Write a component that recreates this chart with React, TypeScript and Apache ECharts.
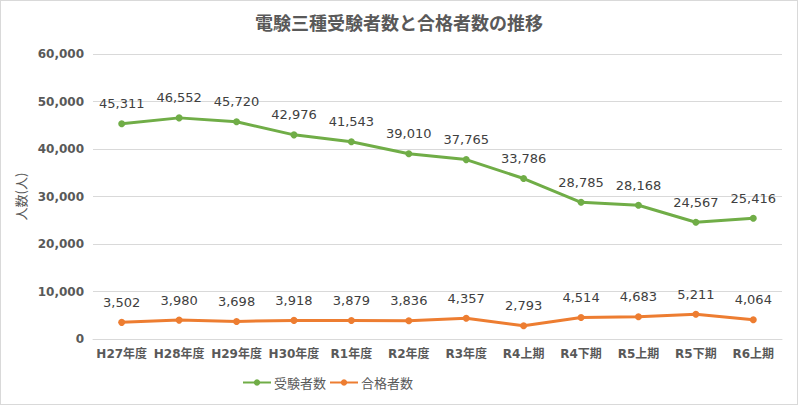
import React, { useEffect, useRef } from "react";
import * as echarts from "echarts";

const categories = ["H27年度", "H28年度", "H29年度", "H30年度", "R1年度", "R2年度", "R3年度", "R4上期", "R4下期", "R5上期", "R5下期", "R6上期"];
const examinees = [45311, 46552, 45720, 42976, 41543, 39010, 37765, 33786, 28785, 28168, 24567, 25416];
const passers = [3502, 3980, 3698, 3918, 3879, 3836, 4357, 2793, 4514, 4683, 5211, 4064];

const FONT = "'DejaVu Sans', 'Noto Sans CJK JP', sans-serif";
const CJK = "'Noto Sans CJK JP', sans-serif";

export default function App() {
  const ref = useRef<HTMLDivElement>(null);
  useEffect(() => {
    if (!ref.current) return;
    const chart = echarts.init(ref.current, undefined, { renderer: "svg" });
    const fmt = (p: any) => Number(p.value).toLocaleString("en-US");
    chart.setOption({
      animation: false,
      backgroundColor: "#ffffff",
      textStyle: { fontFamily: FONT },
      title: {
        text: "電験三種受験者数と合格者数の推移",
        left: "center",
        top: 7,
        textStyle: { fontSize: 18, fontWeight: "bold", color: "#595959", fontFamily: CJK },
      },
      legend: {
        bottom: 10,
        left: 236,
        itemWidth: 28,
        itemHeight: 8,
        itemGap: 3,
        textStyle: { fontSize: 13, color: "#595959", fontFamily: CJK, padding: [0, 0, 0, -2] },
        data: ["受験者数", "合格者数"],
      },
      grid: { left: 92, right: 15, top: 53, bottom: 65 },
      xAxis: {
        type: "category",
        data: categories,
        boundaryGap: true,
        axisLine: { lineStyle: { color: "#d9d9d9" } },
        axisTick: { show: false },
        axisLabel: { color: "#595959", fontSize: 12, fontWeight: "bold", margin: 9, interval: 0, fontFamily: FONT },
      },
      yAxis: {
        type: "value",
        min: 0,
        max: 60000,
        interval: 10000,
        name: "人数(人)",
        nameLocation: "middle",
        nameGap: 57,
        nameRotate: 90,
        nameTextStyle: { color: "#595959", fontSize: 13, fontFamily: CJK },
        axisLine: { show: false },
        axisTick: { show: false },
        splitLine: { lineStyle: { color: "#d9d9d9" } },
        axisLabel: {
          color: "#595959",
          fontSize: 12,
          fontWeight: "bold",
          margin: 9,
          fontFamily: FONT,
          formatter: (v: number) => v.toLocaleString("en-US"),
        },
      },
      series: [
        {
          name: "受験者数",
          type: "line",
          data: examinees,
          color: "#70AD47",
          lineStyle: { width: 3, color: "#70AD47" },
          symbol: "circle",
          symbolSize: 7,
          label: { show: true, position: "top", distance: 10, color: "#404040", fontSize: 13, formatter: fmt, fontFamily: FONT },
        },
        {
          name: "合格者数",
          type: "line",
          data: passers,
          color: "#ED7D31",
          lineStyle: { width: 3, color: "#ED7D31" },
          symbol: "circle",
          symbolSize: 7,
          label: { show: true, position: "top", distance: 10, color: "#404040", fontSize: 13, formatter: fmt, fontFamily: FONT },
        },
      ],
    });
    return () => chart.dispose();
  }, []);
  return (
    <div
      style={{
        position: "fixed",
        left: 0,
        top: 0,
        width: 798,
        height: 405,
        boxSizing: "border-box",
        border: "1px solid #d9d9d9",
        background: "#fff",
      }}
    >
      <div ref={ref} style={{ width: 796, height: 403 }} />
    </div>
  );
}
